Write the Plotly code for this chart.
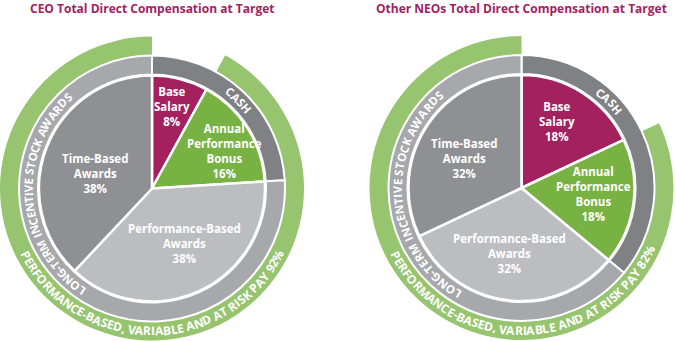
import math
import plotly.graph_objects as go

# ---------------- data ----------------
categories = ["Base Salary", "Annual Performance Bonus",
              "Performance-Based Awards", "Time-Based Awards"]
label_text = ["Base<br>Salary", "Annual<br>Performance<br>Bonus",
              "Performance-Based<br>Awards", "Time-Based<br>Awards"]
ceo_values = [8, 16, 38, 38]
neo_values = [18, 18, 32, 32]
titles = ["CEO Total Direct Compensation at Target",
          "Other NEOs Total Direct Compensation at Target"]
ring_names = ["CASH", "LONG-TERM INCENTIVE STOCK AWARDS"]
risk_template = "PERFORMANCE-BASED, VARIABLE AND AT RISK PAY {}%"

# ---------------- style / layout ----------------
W, H = 675, 341
FONT = "Open Sans"
C_MAGENTA = "#a4215f"
C_GREEN = "#77b243"
C_LGRAY = "#bcbdc0"
C_DGRAY = "#8f9093"
C_CASH = "#808184"
C_LTI = "#a7a8ab"
C_RING = "#97c46f"
slice_colors = [C_MAGENTA, C_GREEN, C_LGRAY, C_DGRAY]

R_PIE, R_RING, R_RISK = 113, 133, 152
LABEL_SIZE = 11.5

charts = [
    dict(values=ceo_values, title=titles[0], cx=152, cy=188.5,
         label_pos=[(13.7, 84), (62.5, 82), (149, 64), (285, 59)],
         cash=(38.9, 49.7), lti=(214.7, 317.1), risk=(242.0, 118.0)),
    dict(values=neo_values, title=titles[1], cx=521.5, cy=188,
         label_pos=[(28, 75), (95, 72), (190, 67), (297, 64)],
         cash=(39.3, 50.5), lti=(211.2, 318.3), risk=(241.8, 116.5)),
]

# approximate advance widths (em) for bold sans caps
WID = {" ": .26, "A": .69, "B": .67, "C": .63, "D": .72, "E": .56, "F": .54,
       "G": .70, "H": .75, "I": .34, "K": .66, "L": .56, "M": .92, "N": .79,
       "O": .78, "P": .64, "R": .67, "S": .56, "T": .58, "V": .65, "W": 1.0,
       "Y": .62, "-": .32, ",": .29, "%": .86}


def cw(ch):
    return WID.get(ch, .57)


def dom(cx, cy, r):
    return dict(x=[(cx - r) / W, (cx + r) / W],
                y=[(H - cy - r) / H, (H - cy + r) / H])


def pix(cx, cy, r, theta):
    t = math.radians(theta)
    return cx + r * math.sin(t), cy - r * math.cos(t)


def arc_text(text, cx, cy, r, th0, th1, size, bottom):
    """place characters along an arc; first char centre at th0, last at th1"""
    anns = []
    centres = []
    acc = 0.0
    for ch in text:
        w = cw(ch)
        centres.append(acc + w / 2)
        acc += w
    c0, c1 = centres[0], centres[-1]
    for ch, c in zip(text, centres):
        if ch == " ":
            continue
        th = th0 + (th1 - th0) * (c - c0) / (c1 - c0)
        px, py = pix(cx, cy, r, th)
        ang = th - 180 if bottom else th
        ang = (ang + 180) % 360 - 180
        anns.append(dict(x=px / W, y=1 - py / H, xref="paper", yref="paper",
                         text=ch, showarrow=False, xanchor="center",
                         yanchor="middle", textangle=ang,
                         font=dict(family=FONT, size=size, color="white",
                                   weight="bold")))
    return anns


fig = go.Figure()
annotations = []

for ch in charts:
    v = ch["values"]
    cx, cy = ch["cx"], ch["cy"]
    cash = v[0] + v[1]
    lti = v[2] + v[3]
    at_risk = v[1] + v[2] + v[3]

    # outer green "at risk" ring
    fig.add_trace(go.Pie(
        values=[v[0], at_risk], labels=["Fixed", "At risk"],
        marker=dict(colors=["rgba(0,0,0,0)", C_RING], line=dict(width=0)),
        hole=R_RING / R_RISK, sort=False, direction="clockwise", rotation=0,
        textinfo="none", hoverinfo="skip", domain=dom(cx, cy, R_RISK)))

    # cash / long-term ring
    fig.add_trace(go.Pie(
        values=[cash, lti], labels=ring_names,
        marker=dict(colors=[C_CASH, C_LTI], line=dict(color="white", width=2)),
        hole=(R_PIE + 1) / R_RING, sort=False, direction="clockwise",
        rotation=0, textinfo="none", hoverinfo="skip",
        domain=dom(cx, cy, R_RING)))

    # inner pie
    fig.add_trace(go.Pie(
        values=v, labels=categories,
        marker=dict(colors=slice_colors, line=dict(color="white", width=2.5)),
        sort=False, direction="clockwise", rotation=0,
        textinfo="none", hoverinfo="label+value",
        domain=dom(cx, cy, R_PIE)))

    # slice labels
    for i, val in enumerate(v):
        th, rr = ch["label_pos"][i]
        bx, by = pix(cx, cy, rr, th)
        annotations.append(dict(
            x=bx / W, y=1 - by / H, xref="paper", yref="paper",
            text=f"{label_text[i]}<br>{val}%", showarrow=False,
            xanchor="center", yanchor="middle", align="center",
            font=dict(family=FONT, size=LABEL_SIZE, color="white",
                      weight="bold")))

    # ring texts
    r_mid = (R_PIE + R_RING) / 2 + 1
    annotations += arc_text(ring_names[0], cx, cy, r_mid, *ch["cash"], 11.5, False)
    annotations += arc_text(ring_names[1], cx, cy, r_mid, *ch["lti"], 11.5, False)
    annotations += arc_text(risk_template.format(at_risk), cx, cy,
                            (R_RING + R_RISK) / 2, *ch["risk"], 12, True)

    # title
    annotations.append(dict(
        x=cx / W, y=1 - 8.5 / H, xref="paper", yref="paper",
        text=ch["title"], showarrow=False, xanchor="center", yanchor="middle",
        font=dict(family=FONT, size=12, color=C_MAGENTA, weight="bold")))

fig.update_layout(
    width=W, height=H, margin=dict(l=0, r=0, t=0, b=0),
    paper_bgcolor="white", plot_bgcolor="white", showlegend=False,
    annotations=annotations)

fig.write_html("out.html")
